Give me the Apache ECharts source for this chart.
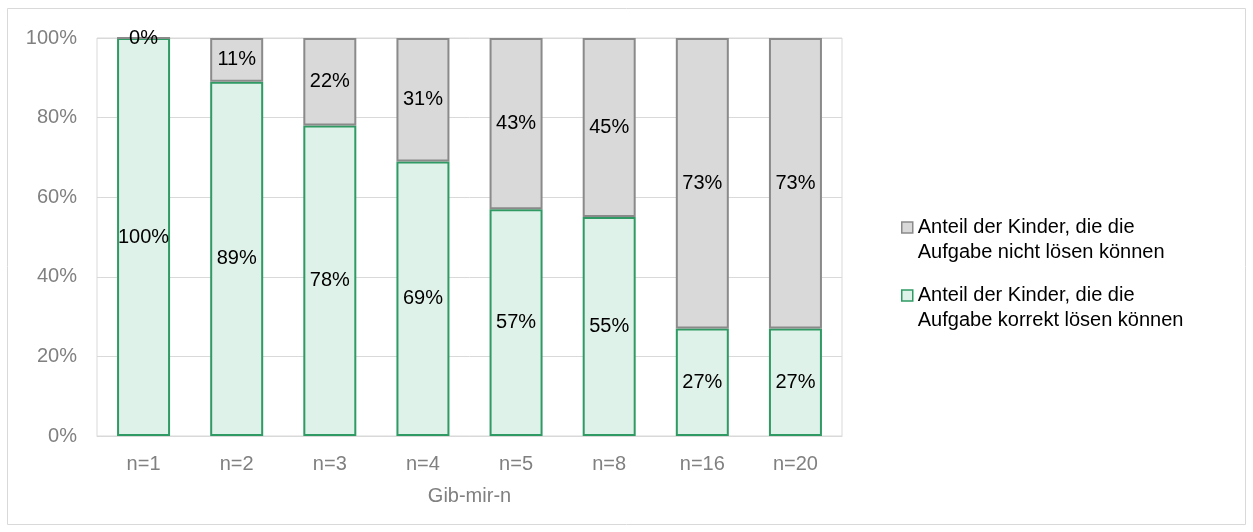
<!DOCTYPE html>
<html>
<head>
<meta charset="utf-8">
<script src="https://cdn.jsdelivr.net/npm/echarts@6/dist/echarts.min.js"></script>
<style>
  html, body { margin: 0; padding: 0; background: #fff; }
  #chart { width: 1253px; height: 532px; }
</style>
</head>
<body>
<div id="chart"></div>
<script>
// Gib-mir-n: share of children who solve / fail the task, per n
const categories = ['n=1', 'n=2', 'n=3', 'n=4', 'n=5', 'n=8', 'n=16', 'n=20'];
const korrekt = [100, 89, 78, 69, 57, 55, 27, 27];
const nicht = [0, 11, 22, 31, 43, 45, 73, 73];
const yTicks = [0, 20, 40, 60, 80, 100];
const nameNicht = 'Anteil der Kinder, die die\nAufgabe nicht lösen können';
const nameKorrekt = 'Anteil der Kinder, die die\nAufgabe korrekt lösen können';

const font = 'Liberation Sans, Arial, sans-serif';
const chart = echarts.init(document.getElementById('chart'), null, { renderer: 'canvas' });

const labelStyle = {
  show: true,
  position: 'inside',
  color: '#000',
  fontSize: 20,
  fontFamily: font,
  formatter: p => p.value + '%'
};

chart.setOption({
  animation: false,
  textStyle: { fontFamily: font },
  graphic: [{
    type: 'rect',
    shape: { x: 7.5, y: 8.5, width: 1238, height: 516 },
    style: { fill: 'none', stroke: '#d9d9d9', lineWidth: 1 },
    silent: true
  }],
  grid: { left: 97, right: 411, top: 38, bottom: 96, show: true, borderColor: '#d9d9d9', borderWidth: 1 },
  legend: {
    orient: 'vertical',
    left: 901,
    top: 190,
    padding: 0,
    icon: 'rect',
    itemWidth: 11,
    itemHeight: 11,
    itemGap: -7,
    data: [nameNicht, nameKorrekt],
    itemStyle: { borderWidth: 1.5 },
    // a blank leading line keeps the key square level with the first text line
    formatter: name => '\n' + name,
    textStyle: { color: '#000', fontSize: 20, fontFamily: font, lineHeight: 25 }
  },
  xAxis: {
    type: 'category',
    data: categories,
    name: 'Gib-mir-n',
    nameLocation: 'middle',
    nameGap: 50,
    nameTextStyle: { color: '#808080', fontSize: 20, fontFamily: font },
    axisLine: { lineStyle: { color: '#d9d9d9', width: 1 } },
    axisTick: { show: false },
    axisLabel: { color: '#808080', fontSize: 20, margin: 18, fontFamily: font }
  },
  yAxis: {
    type: 'value',
    min: yTicks[0],
    max: yTicks[yTicks.length - 1],
    interval: 20,
    axisLine: { show: false },
    axisTick: { show: false },
    splitLine: { lineStyle: { color: '#d9d9d9', width: 1 } },
    axisLabel: { color: '#808080', fontSize: 20, margin: 20, fontFamily: font, formatter: v => v + '%' }
  },
  series: [
    {
      name: nameKorrekt,
      type: 'bar',
      stack: 'total',
      data: korrekt,
      barWidth: 53,
      itemStyle: { color: '#dff2e9', borderColor: '#2f9a63', borderWidth: 2 },
      label: labelStyle
    },
    {
      name: nameNicht,
      type: 'bar',
      stack: 'total',
      data: nicht,
      barWidth: 53,
      itemStyle: { color: '#d9d9d9', borderColor: '#8a8a8a', borderWidth: 2 },
      label: labelStyle
    }
  ]
});
</script>
</body>
</html>
